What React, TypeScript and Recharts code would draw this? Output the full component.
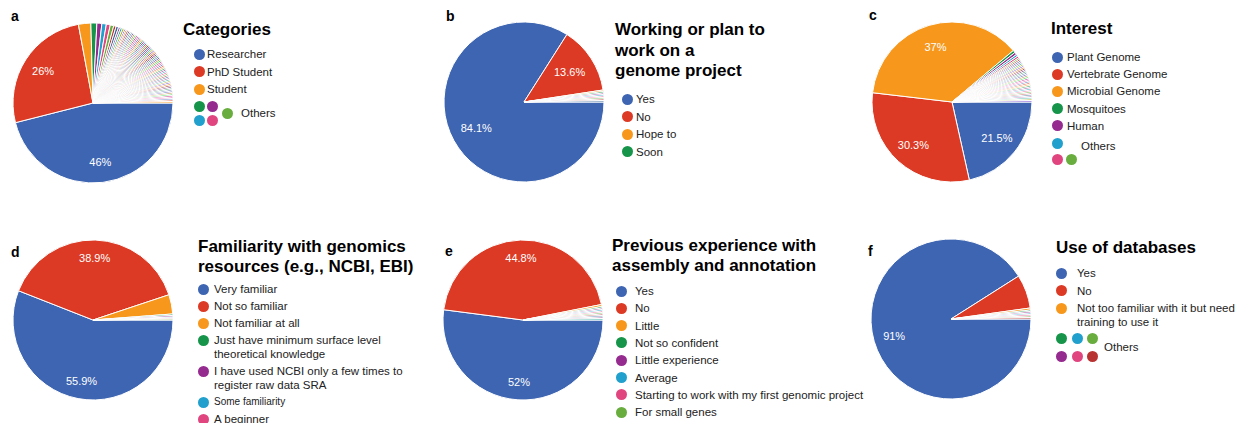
import React from "react";
import { PieChart, Pie, Cell } from "recharts";

const FONT = '"Liberation Sans", Arial, Helvetica, sans-serif';
const RAD = Math.PI / 180;

const palette = [
  "#3e65b1", "#dc3a24", "#f7981d", "#16954a", "#952a8f", "#21a0cd",
  "#e1457f", "#69ad3f", "#b93232", "#316395", "#994499", "#22aa99",
  "#aaaa11", "#6633cc", "#e67300", "#8b0707", "#651067", "#329262",
  "#5574a6", "#3b3eac", "#b77322", "#16d620", "#b91383", "#f4359e",
];

// a — Categories (percent of respondents; the tail is single free-text answers)
const categoriesA = ["Researcher", "PhD Student", "Student"];
const sharesA = [
  46, 26, 2.5, 1.2, 1.0, 0.9, 0.8, 0.7, 0.5, 0.5, 0.4, 0.4, 0.4,
  0.3, 0.3, 0.3, 0.3, 0.3, 0.3, 0.3, 0.3, 0.3, 0.3,
  0.3, 0.3, 0.3, 0.3, 0.3, 0.3, 0.3, 0.3, 0.3, 0.3,
  0.3, 0.3, 0.3, 0.3, 0.3, 0.3, 0.3, 0.3, 0.3, 0.3,
  0.3, 0.3, 0.3, 0.3, 0.3, 0.3, 0.3, 0.3, 0.3, 0.3,
  0.3, 0.3, 0.3, 0.3, 0.3, 0.3, 0.3, 0.3, 0.3, 0.3,
  0.3, 0.3, 0.3, 0.3, 0.3, 0.3, 0.3, 0.3, 0.3, 0.3,
  0.3, 0.3,
];

// b — Working or plan to work on a genome project
const categoriesB = ["Yes", "No", "Hope to", "Soon"];
const sharesB = [84.1, 13.6, 0.3, 0.3, 0.3, 0.3, 0.3, 0.3, 0.3, 0.3];

// c — Interest
const categoriesC = ["Plant Genome", "Vertebrate Genome", "Microbial Genome", "Mosquitoes", "Human"];
const sharesC = [
  21.5, 30.3, 37, 0.5, 0.5, 0.4, 0.4,
  0.3, 0.3, 0.3, 0.3, 0.3, 0.3, 0.3, 0.3, 0.3, 0.3,
  0.3, 0.3, 0.3, 0.3, 0.3, 0.3, 0.3, 0.3, 0.3, 0.3,
  0.3, 0.3, 0.3, 0.3, 0.3, 0.3, 0.3, 0.3, 0.3, 0.3,
  0.3,
];

// d — Familiarity with genomics resources
const categoriesD = [
  ["Very familiar"],
  ["Not so familiar"],
  ["Not familiar at all"],
  ["Just have minimum surface level", "theoretical knowledge"],
  ["I have used NCBI only a few times to", "register raw data SRA"],
  ["Some familiarity"],
  ["A beginner"],
];
const sharesD = [55.9, 38.9, 3.9, 0.3, 0.3, 0.2, 0.2, 0.2];

// e — Previous experience with assembly and annotation
const categoriesE = [
  "Yes", "No", "Little", "Not so confident", "Little experience", "Average",
  "Starting to work with my first genomic project", "For small genes",
];
const sharesE = [52, 44.8, 0.4, 0.3, 0.3, 0.3, 0.3, 0.3, 0.3, 0.3, 0.3, 0.3];

// f — Use of databases
const categoriesF = [
  ["Yes"],
  ["No"],
  ["Not too familiar with it but need", "training to use it"],
];
const sharesF = [91, 6.8, 0.4, 0.3, 0.3, 0.3, 0.3, 0.3, 0.3];

const colorAt = (i: number) => palette[i % palette.length];

const makeLabel = (factor: number) => (props: any) => {
  const { cx, cy, midAngle, outerRadius, value } = props;
  if (value < 10) return <g />;
  const r = outerRadius * factor;
  const x = cx + r * Math.cos(-midAngle * RAD);
  const y = cy + r * Math.sin(-midAngle * RAD);
  return (
    <text x={x} y={y} fill="#fff" fontSize={11} fontFamily={FONT} textAnchor="middle" dominantBaseline="central">
      {`${value}%`}
    </text>
  );
};

function PiePanel({ shares, cx, cy, labelFactor }: { shares: number[]; cx: number; cy: number; labelFactor: number }) {
  const data = shares.map((v, i) => ({ name: `s${i}`, value: v }));
  return (
    <div style={{ position: "absolute", left: cx - 85, top: cy - 85 }}>
      <PieChart width={170} height={170} margin={{ top: 0, right: 0, bottom: 0, left: 0 }}>
        <Pie
          data={data}
          dataKey="value"
          cx={85}
          cy={85}
          outerRadius={80}
          startAngle={0}
          endAngle={-360}
          stroke="#fff"
          strokeWidth={1}
          labelLine={false}
          label={makeLabel(labelFactor)}
          isAnimationActive={false}
        >
          {data.map((_, i) => (
            <Cell key={`c-${i}`} fill={colorAt(i)} />
          ))}
        </Pie>
      </PieChart>
    </div>
  );
}

const Dot = ({ x, y, color }: { x: number; y: number; color: string }) => (
  <div style={{ position: "absolute", left: x - 5.5, top: y - 5.5, width: 11, height: 11, borderRadius: "50%", background: color }} />
);

const TextLine = ({ x, y, size = 11.5, children }: any) => (
  <div style={{ position: "absolute", left: x, top: y - 7, lineHeight: "14px", fontSize: size, color: "#222", whiteSpace: "nowrap" }}>
    {children}
  </div>
);

type LegendProps = {
  title: string[];
  left: number;
  top: number;
  titleLine?: number;
  dotX: number;
  textX: number;
  firstY: number;
  pitch: number;
  lineGap?: number;
  items: { lines: string[]; small?: boolean }[];
  others?: { dots: { x: number; y: number; c: number }[]; x: number; y: number };
};

function Legend({ title, left, top, titleLine = 20, dotX, textX, firstY, pitch, lineGap = 14, items, others }: LegendProps) {
  const els: React.ReactNode[] = [];
  let y = firstY;
  items.forEach((it, i) => {
    els.push(<Dot key={`d${i}`} x={dotX} y={y} color={colorAt(i)} />);
    it.lines.forEach((ln, k) => {
      els.push(
        <TextLine key={`t${i}-${k}`} x={textX} y={y + k * lineGap} size={it.small ? 10 : 11.5}>
          {ln}
        </TextLine>
      );
    });
    y += pitch + (it.lines.length - 1) * lineGap;
  });
  return (
    <>
      <div style={{ position: "absolute", left, top, fontSize: 17, fontWeight: 700, lineHeight: `${titleLine}px`, color: "#000", whiteSpace: "nowrap" }}>
        {title.map((t, i) => (
          <div key={i}>{t}</div>
        ))}
      </div>
      {els}
      {others && (
        <>
          {others.dots.map((d, i) => (
            <Dot key={`o${i}`} x={d.x} y={d.y} color={colorAt(d.c)} />
          ))}
          <TextLine x={others.x} y={others.y}>Others</TextLine>
        </>
      )}
    </>
  );
}

const PanelLetter = ({ x, y, children }: any) => (
  <div style={{ position: "absolute", left: x, top: y, fontSize: 14, fontWeight: 700, lineHeight: "16px", color: "#000" }}>{children}</div>
);

export default function App() {
  return (
    <div style={{ position: "absolute", left: 0, top: 0, width: 1244, height: 423, overflow: "hidden", background: "#fff", fontFamily: FONT }}>
      <PanelLetter x={11} y={8}>a</PanelLetter>
      <PanelLetter x={446} y={8}>b</PanelLetter>
      <PanelLetter x={869} y={7}>c</PanelLetter>
      <PanelLetter x={11} y={244}>d</PanelLetter>
      <PanelLetter x={445} y={243}>e</PanelLetter>
      <PanelLetter x={868} y={243}>f</PanelLetter>

      <PiePanel shares={sharesA} cx={93} cy={103} labelFactor={0.74} />
      <PiePanel shares={sharesB} cx={523.5} cy={102} labelFactor={0.68} />
      <PiePanel shares={sharesC} cx={951.5} cy={102} labelFactor={0.72} />
      <PiePanel shares={sharesD} cx={93} cy={320} labelFactor={0.77} />
      <PiePanel shares={sharesE} cx={523} cy={320} labelFactor={0.78} />
      <PiePanel shares={sharesF} cx={951} cy={319} labelFactor={0.74} />

      <Legend
        title={["Categories"]}
        left={183}
        top={20}
        dotX={199}
        textX={207}
        firstY={54}
        pitch={17.5}
        items={categoriesA.map((c) => ({ lines: [c] }))}
        others={{
          dots: [
            { x: 199, y: 106, c: 3 },
            { x: 212, y: 106, c: 4 },
            { x: 199, y: 120, c: 5 },
            { x: 212, y: 120, c: 6 },
            { x: 227, y: 113, c: 7 },
          ],
          x: 241,
          y: 113,
        }}
      />
      <Legend
        title={["Working or plan to", "work on a", "genome project"]}
        left={615}
        top={20}
        titleLine={20.5}
        dotX={627}
        textX={636}
        firstY={99}
        pitch={17.5}
        items={categoriesB.map((c) => ({ lines: [c] }))}
      />
      <Legend
        title={["Interest"]}
        left={1051}
        top={19}
        dotX={1057}
        textX={1067}
        firstY={57}
        pitch={17.2}
        items={categoriesC.map((c) => ({ lines: [c] }))}
        others={{
          dots: [
            { x: 1057, y: 143, c: 5 },
            { x: 1057, y: 159, c: 6 },
            { x: 1071, y: 159, c: 7 },
          ],
          x: 1081,
          y: 146,
        }}
      />
      <Legend
        title={["Familiarity with genomics", "resources (e.g., NCBI, EBI)"]}
        left={198}
        top={236.5}
        dotX={203}
        textX={214}
        firstY={289}
        pitch={17}
        items={categoriesD.map((c, i) => ({ lines: c, small: i === 5 }))}
      />
      <Legend
        title={["Previous experience with", "assembly and annotation"]}
        left={612}
        top={236}
        dotX={621}
        textX={635}
        firstY={291}
        pitch={17.3}
        items={categoriesE.map((c) => ({ lines: [c] }))}
      />
      <Legend
        title={["Use of databases"]}
        left={1056}
        top={238}
        dotX={1061}
        textX={1077}
        firstY={273}
        pitch={17.5}
        lineGap={13.5}
        items={categoriesF.map((c) => ({ lines: c }))}
        others={{
          dots: [
            { x: 1061, y: 338, c: 3 },
            { x: 1077, y: 338, c: 5 },
            { x: 1092, y: 338, c: 7 },
            { x: 1061, y: 356, c: 4 },
            { x: 1077, y: 356, c: 6 },
            { x: 1092, y: 356, c: 8 },
          ],
          x: 1104,
          y: 347,
        }}
      />
    </div>
  );
}
